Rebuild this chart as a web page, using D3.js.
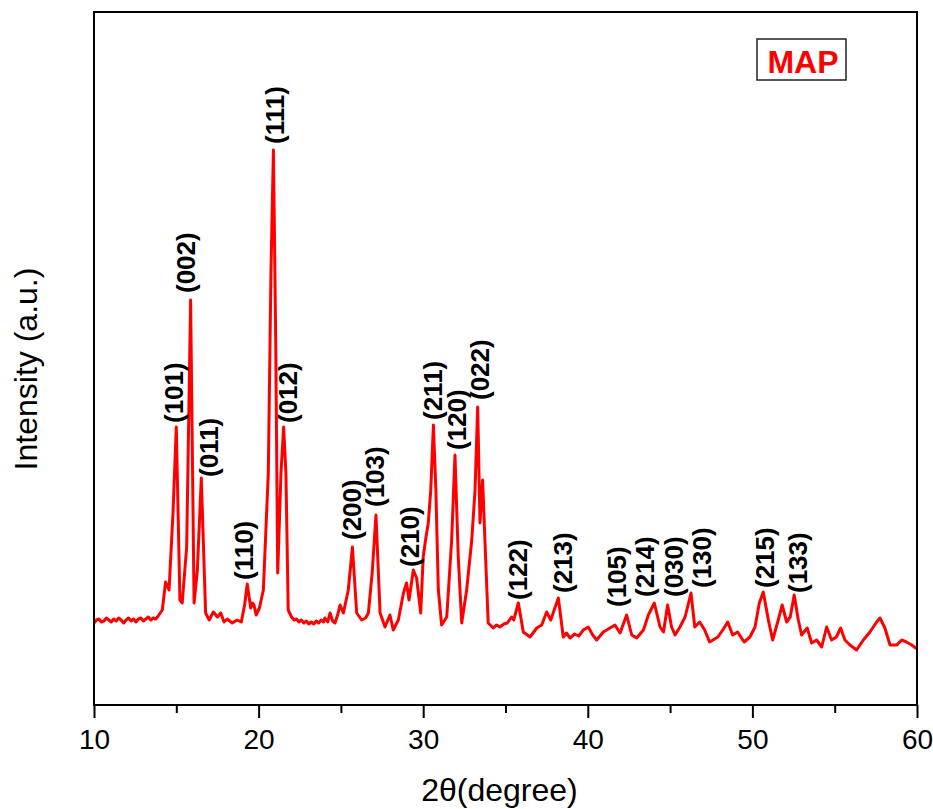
<!DOCTYPE html>
<html>
<head>
<meta charset="utf-8">
<script src="https://cdn.jsdelivr.net/npm/d3@7"></script>
<style>
  body { margin: 0; background: #fff; }
  svg { display: block; font-family: "Liberation Sans", Arial, sans-serif; }
</style>
</head>
<body>
<div id="chart"></div>
<script>
/* XRD pattern data */
var twoTheta = [10.0,10.15,10.3,10.45,10.6,10.75,10.9,11.05,11.2,11.35,11.5,11.65,11.8,11.95,12.1,12.25,
  12.4,12.55,12.7,12.85,13.0,13.15,13.3,13.45,13.6,13.75,13.9,
  14.15,14.35,14.56,14.8,15.0,15.22,15.36,15.63,15.87,16.08,16.28,16.52,16.78,17.0,17.25,17.5,17.7,17.9,
  18.1,18.4,18.7,18.95,19.15,19.31,19.52,19.62,19.72,19.85,20.05,20.29,20.59,20.75,20.9,21.04,21.16,
  21.36,21.52,21.66,21.8,22.0,22.15,22.3,22.45,22.6,22.75,22.9,23.05,23.2,23.35,23.5,23.65,23.8,23.95,
  24.03,24.2,24.34,24.5,24.64,24.8,24.95,
  25.15,25.45,25.7,25.96,26.26,26.5,26.67,26.9,27.13,27.38,27.68,27.98,28.18,28.49,28.8,28.99,29.14,
  29.4,29.6,29.85,30.0,30.17,30.31,30.46,30.62,30.77,30.92,31.12,31.43,31.73,31.93,32.13,32.34,32.64,
  32.95,33.15,33.31,33.45,33.61,33.75,33.95,34.26,34.45,34.66,34.9,35.11,35.37,35.5,35.78,36.08,36.49,
  36.9,37.2,37.5,37.75,38.21,38.51,38.7,38.92,39.2,39.45,39.73,40.03,40.3,40.54,40.94,41.35,41.65,
  41.96,42.36,42.67,42.97,43.38,43.68,44.04,44.39,44.6,44.85,45.09,45.3,45.6,45.91,46.27,46.5,46.8,
  47.1,47.4,47.9,48.2,48.5,48.8,49.1,49.5,49.85,50.16,50.42,50.66,50.97,51.23,51.57,51.81,52.08,52.3,
  52.54,52.79,52.99,53.33,53.6,53.9,54.21,54.51,54.81,55.1,55.36,55.62,55.93,56.33,56.74,57.14,57.55,
  57.75,58.05,58.36,58.77,59.07,59.35,59.68,59.92,60.0];
var intensity = [820,850,860,830,840,870,850,830,860,840,870,850,820,850,870,840,
  860,830,860,870,840,860,880,850,870,860,890,
  950,1230,1150,1920,2780,1050,1020,1580,4050,1020,1350,2270,920,850,930,880,920,830,
  860,820,850,830,1000,1210,970,1020,1000,900,970,1150,2320,4320,5550,3650,1320,
  2320,2780,2320,950,880,850,860,830,850,820,840,810,830,810,840,820,850,830,
  870,830,920,840,820,900,1000,
  920,1150,1580,920,850,870,920,1320,1900,920,780,900,750,850,1120,1220,1050,
  1350,1270,920,1480,1680,1820,2150,2800,2150,1150,800,880,1650,2500,1480,820,1150,
  1650,2150,2980,1820,2250,1650,820,770,800,780,810,820,880,850,1020,730,680,
  770,800,930,850,1070,680,720,670,710,690,750,780,700,650,730,770,800,
  720,900,700,670,750,900,1020,780,730,1000,780,700,780,880,1120,780,830,
  750,630,680,750,830,700,730,630,680,780,1020,1130,850,650,850,1000,830,880,
  1100,850,700,770,620,650,580,780,650,680,770,650,600,550,650,730,830,
  870,770,600,600,650,630,600,570,570];

/* peak labels: hkl, label position (2theta), label foot (intensity) */
var peakLabels = ['(101)','(002)','(011)','(110)','(111)','(012)','(200)','(103)','(210)','(211)',
  '(120)','(022)','(122)','(213)','(105)','(214)','(030)','(130)','(215)','(133)'];
var labelPos = [14.86,15.59,16.99,19.11,21.0,21.8,25.66,27.07,29.2,30.6,
  32.04,33.45,35.78,38.51,41.76,43.47,45.2,46.92,50.77,52.79];
var labelFoot = [2820,4120,2280,1250,5610,2820,1650,1980,1380,2850,
  2550,3050,1050,1120,980,1080,1080,1170,1170,1120];

var majorTicks = [10,20,30,40,50,60];
var minorTicks = [15,25,35,45,55];

var W = 933, H = 809;
var margin = {left: 94, top: 12, right: 16, bottom: 104};
var plotW = W - margin.left - margin.right, plotH = H - margin.top - margin.bottom;

var x = d3.scaleLinear().domain([10, 60]).range([0, plotW]);
var y = d3.scaleLinear().domain([0, 6930]).range([plotH, 0]);

var svg = d3.select('#chart').append('svg')
  .attr('width', W).attr('height', H);
var g = svg.append('g').attr('transform', 'translate(' + margin.left + ',' + margin.top + ')');

// the pattern
var pts = twoTheta.map(function(t, i) { return [t, intensity[i]]; });
var line = d3.line().x(function(d) { return x(d[0]); }).y(function(d) { return y(d[1]); });
g.append('path').datum(pts)
  .attr('d', line)
  .attr('fill', 'none')
  .attr('stroke', '#ff0000')
  .attr('stroke-width', 3)
  .attr('stroke-linejoin', 'round');

// hkl labels
g.selectAll('text.hkl').data(peakLabels).enter().append('text')
  .attr('class', 'hkl')
  .attr('transform', function(d, i) {
    return 'translate(' + x(labelPos[i]) + ',' + y(labelFoot[i]) + ') rotate(-90)';
  })
  .attr('dy', '0.35em')
  .attr('text-anchor', 'start')
  .style('font-size', '26px')
  .style('font-weight', 'bold')
  .attr('fill', '#000')
  .text(function(d) { return d; });

// x axis, major + minor
var xAxis = d3.axisBottom(x).tickValues(majorTicks).tickSize(13).tickPadding(11)
  .tickFormat(d3.format('d'));
var ax = g.append('g').attr('transform', 'translate(0,' + plotH + ')').call(xAxis);
ax.select('.domain').remove();
ax.selectAll('line').attr('stroke', '#000').attr('stroke-width', 2);
ax.selectAll('text').style('font-size', '28px').attr('fill', '#000');

var minAx = g.append('g').attr('transform', 'translate(0,' + plotH + ')')
  .call(d3.axisBottom(x).tickValues(minorTicks).tickSize(8).tickFormat(''));
minAx.select('.domain').remove();
minAx.selectAll('line').attr('stroke', '#000').attr('stroke-width', 2);

// frame
g.append('rect').attr('x', 0).attr('y', 0).attr('width', plotW).attr('height', plotH)
  .attr('fill', 'none').attr('stroke', '#000').attr('stroke-width', 2);

// axis titles
svg.append('text')
  .attr('x', margin.left + plotW / 2 - 6).attr('y', 801)
  .attr('text-anchor', 'middle')
  .style('font-size', '32px')
  .text('2\u03B8(degree)');
svg.append('text')
  .attr('transform', 'translate(37,369) rotate(-90)')
  .attr('text-anchor', 'middle')
  .style('font-size', '32px')
  .text('Intensity (a.u.)');

// sample tag
var tag = svg.append('g').attr('transform', 'translate(757,39)');
tag.append('rect').attr('width', 89).attr('height', 41)
  .attr('fill', '#fff').attr('stroke', '#222').attr('stroke-width', 1.5);
tag.append('text').attr('x', 46).attr('y', 33.5)
  .attr('text-anchor', 'middle')
  .style('font-size', '32px').style('font-weight', 'bold')
  .attr('fill', '#ff0000')
  .text('MAP');
</script>
</body>
</html>
